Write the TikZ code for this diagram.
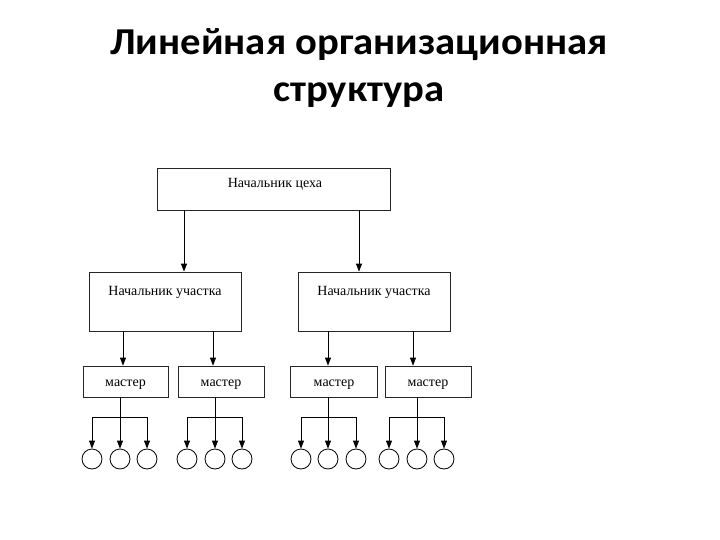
\documentclass[tikz,border=0pt]{standalone}
\usepackage{fontspec}
\setmainfont{Liberation Serif}
\newfontfamily\titlefont{Carlito}
\usetikzlibrary{arrows.meta,calc}
\begin{document}
\begin{tikzpicture}[x=1pt,y=-1pt,
  box/.style={draw=black!85,line width=0.8pt,rectangle,inner sep=0pt},
  lbl/.style={font=\fontsize{14}{16}\selectfont,inner sep=0pt,anchor=base},
  arr/.style={-{Triangle[length=8pt,width=6pt]},line width=0.9pt},
  ln/.style={line width=0.9pt},
  leaf/.style={draw,circle,line width=0.8pt,minimum size=20pt,inner sep=0pt},
  ttl/.style={font=\titlefont\bfseries\fontsize{38}{44}\selectfont,inner sep=0pt,anchor=base,xscale=1.07}]
\useasboundingbox (0,0) rectangle (720,540);
\node[ttl] (t1) at (359,55) {Линейная организационная};
\node[ttl] (t2) at (359,102) {структура};

\node[box,minimum width=233pt,minimum height=42pt] (top) at (273.5,189) {};
\node[lbl] (toplbl) at (275,188) {Начальник цеха};

\node[box,minimum width=152pt,minimum height=59pt] (mid1) at (165,301.5) {};
\node[box,minimum width=152pt,minimum height=59pt] (mid2) at (374,301.5) {};
\node[lbl] (mid1lbl) at (165,295) {Начальник участка};
\node[lbl] (mid2lbl) at (374,295) {Начальник участка};

\coordinate (a1) at (184,0);
\coordinate (a2) at (359,0);
\draw[arr] (top.south -| a1) -- (mid1.north -| a1);
\draw[arr] (top.south -| a2) -- (mid2.north -| a2);

\node[box,minimum width=85pt,minimum height=31pt] (ma1) at (125.5,381.5) {};
\node[box,minimum width=86pt,minimum height=31pt] (ma2) at (221,381.5) {};
\node[box,minimum width=87pt,minimum height=31pt] (ma3) at (334,381.5) {};
\node[box,minimum width=86pt,minimum height=31pt] (ma4) at (428,381.5) {};
\foreach \i in {1,...,4}{\node[lbl] (ma\i lbl) at ($(ma\i)+(0,5)$) {мастер};}

\coordinate (b1) at (123,0);
\coordinate (b2) at (213,0);
\coordinate (b3) at (328,0);
\coordinate (b4) at (413,0);
\draw[arr] (mid1.south -| b1) -- (ma1.north -| b1);
\draw[arr] (mid1.south -| b2) -- (ma2.north -| b2);
\draw[arr] (mid2.south -| b3) -- (ma3.north -| b3);
\draw[arr] (mid2.south -| b4) -- (ma4.north -| b4);

% leaves
\foreach \k/\l/\m/\r in {1/92/120/147, 2/187/215/242, 3/301/328/356, 4/389/417/444}{
  \node[leaf] (c\k a) at (\l,459) {};
  \node[leaf] (c\k b) at (\m,459) {};
  \node[leaf] (c\k c) at (\r,459) {};
  \coordinate (j\k) at (\m,417);
  \coordinate (jl\k) at (\l,417);
  \coordinate (jr\k) at (\r,417);
  \draw[ln] (ma\k.south -| j\k) -- (j\k);
  \draw[ln] (jl\k) -- (jr\k);
  \draw[arr] (jl\k) -- (c\k a.north);
  \draw[arr] (j\k) -- (c\k b.north);
  \draw[arr] (jr\k) -- (c\k c.north);
}
\end{tikzpicture}
\end{document}
